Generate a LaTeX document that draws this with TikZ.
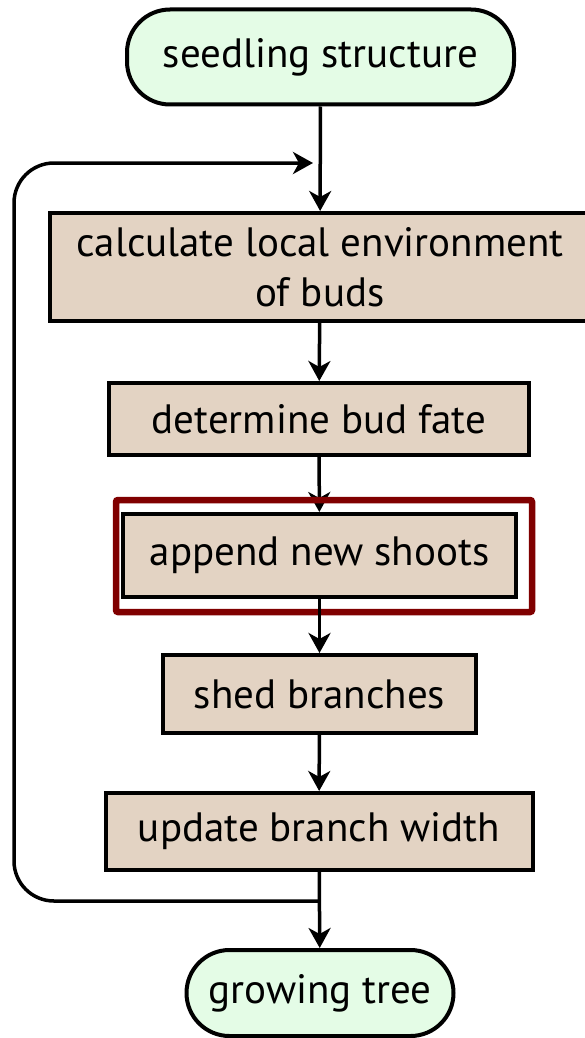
\documentclass[tikz,border=0pt]{standalone}
\usepackage{fontspec}
\setmainfont{PT Sans}
\usetikzlibrary{arrows.meta}
\definecolor{boxfill}{HTML}{E3D3C3}
\definecolor{termfill}{HTML}{E4FCE6}
\definecolor{hilite}{HTML}{800000}
\tikzset{
  every node/.style={font=\fontsize{41}{50}\selectfont, text=black, inner sep=0pt},
  stepbox/.style={draw=black, line width=4pt, fill=boxfill, align=center},
  termbox/.style={draw=black, line width=4pt, fill=termfill, rounded corners=43pt},
  flow/.style={draw=black, line width=3.5pt, -{Stealth[length=20pt,width=22pt,inset=6pt]}},
  frame/.style={draw=hilite, line width=6.5pt, rounded corners=2pt},
}
\begin{document}
\begin{tikzpicture}[x=1pt,y=-1pt]
\useasboundingbox (0,0) rectangle (584,1038);
\node[termbox, minimum width=387pt, minimum height=95pt] (seed) at (320.5,57) {seedling structure};
\node[stepbox, minimum width=540pt, minimum height=108pt] (calc) at (320,267) {calculate local environment\\of buds};
\node[stepbox, minimum width=420pt, minimum height=72pt] (fate) at (319,419) {determine bud fate};
\node[stepbox, minimum width=393pt, minimum height=83pt] (append) at (319.5,555.5) {append new shoots};
\node[stepbox, minimum width=313pt, minimum height=78pt] (shed) at (319.5,694) {shed branches};
\node[stepbox, minimum width=427pt, minimum height=77pt] (width) at (319,831.5) {update branch width};
\node[termbox, minimum width=267pt, minimum height=86pt] (grow) at (320,993) {growing tree};
\coordinate (loopstart) at (320,901);
\coordinate (loopend) at (313,163);
\draw[flow] (seed) -- (calc);
\draw[flow] (calc) -- (fate);
\draw[flow] (fate) -- (append);
\node[frame, minimum width=416pt, minimum height=112pt] (hl) at (324,556) {};
\draw[flow] (append) -- (shed);
\draw[flow] (shed) -- (width);
\draw[flow] (width) -- (grow);
\draw[flow, rounded corners=40pt] (loopstart) -- (14,901) -- (14,163) -- (loopend);
\end{tikzpicture}
\end{document}
